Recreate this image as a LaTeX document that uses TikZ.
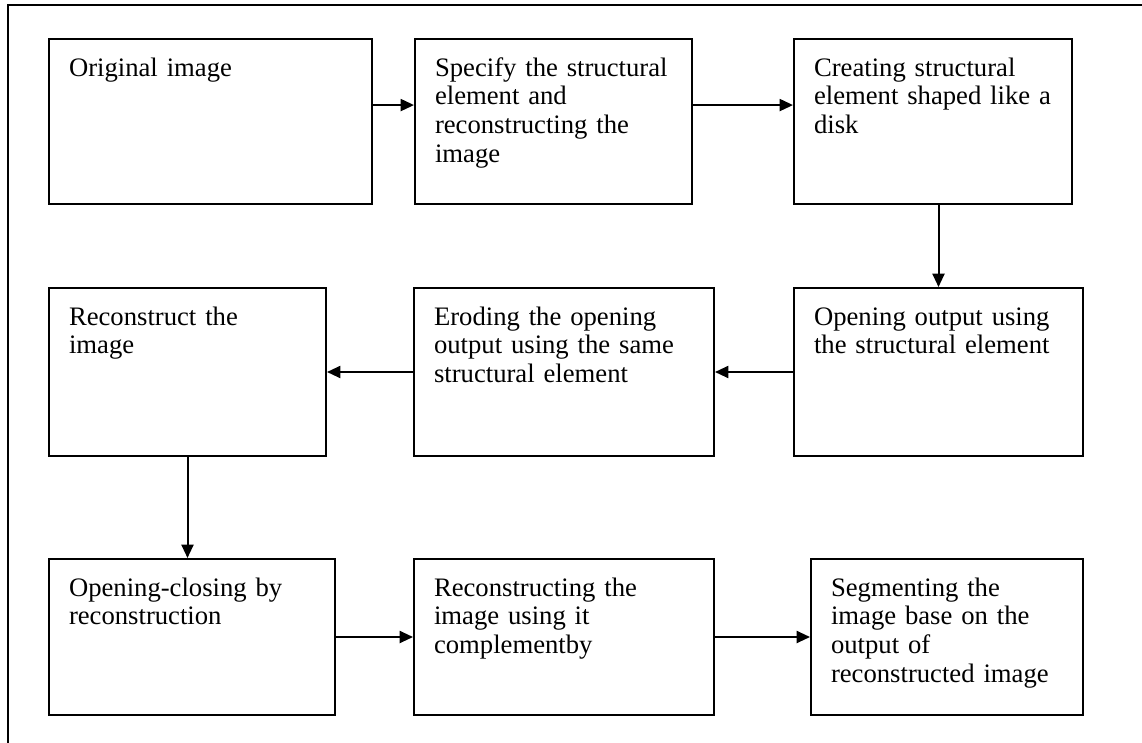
\documentclass[tikz,border=0pt]{standalone}
\usepackage{fontspec}
\setmainfont{Liberation Serif}
\usepackage{tikz}
\usetikzlibrary{arrows.meta}

\begin{document}
\begin{tikzpicture}[x=0.45pt,y=-0.45pt,>={Triangle[length=6pt,width=5.4pt]},
	proc/.style={draw,line width=0.9pt,anchor=north west,align=left,inner xsep=9pt,inner ysep=0pt,
		text height=16.65pt,font=\fontsize{12}{13}\selectfont},
	flow/.style={->,line width=0.9pt}]
	\useasboundingbox (0,0) rectangle (1142,743);
	\draw[line width=0.9pt] (8,760) -- (8,5) -- (1160,5);

	% first row
	\node[proc,text width=127.35pt,text depth=57.6pt] (orig) at (48,38) {Original image};
	\node[proc,text width=106.65pt,text depth=57.6pt] (spec) at (414,38) {Specify the structural\\element and\\reconstructing the\\image};
	\node[proc,text width=107.1pt,text depth=57.6pt] (disk) at (793,38) {Creating structural\\element shaped like a\\disk};

	% second row
	\node[proc,text width=106.65pt,text depth=58.95pt] (recon) at (48,287) {Reconstruct the\\image};
	\node[proc,text width=117pt,text depth=58.95pt] (erode) at (413,287) {Eroding the opening\\output using the same\\structural element};
	\node[proc,text width=112.05pt,text depth=58.95pt] (open) at (793,287) {Opening output using\\the structural element};

	% third row
	\node[proc,text width=110.7pt,text depth=53.55pt] (opcl) at (48,558) {Opening-closing by\\reconstruction};
	\node[proc,text width=117pt,text depth=53.55pt] (compl) at (413,558) {Reconstructing the\\image using it\\complementby};
	\node[proc,text width=104.4pt,text depth=53.55pt] (segm) at (810,558) {Segmenting the\\image base on the\\output of\\reconstructed image};

	\draw[flow] ([yshift=7.4pt]orig.east) -- ([yshift=7.4pt]spec.west);
	\draw[flow] ([yshift=7.4pt]spec.east) -- ([yshift=7.4pt]disk.west);
	\draw[flow] (disk.south -| open.north) -- (open.north);
	\draw[flow] (open.west) -- (erode.east);
	\draw[flow] (erode.west) -- (recon.east);
	\draw[flow] (recon.south) -- (recon.south |- opcl.north);
	\draw[flow] (opcl.east) -- (compl.west);
	\draw[flow] (compl.east) -- (segm.west);
\end{tikzpicture}
\end{document}
